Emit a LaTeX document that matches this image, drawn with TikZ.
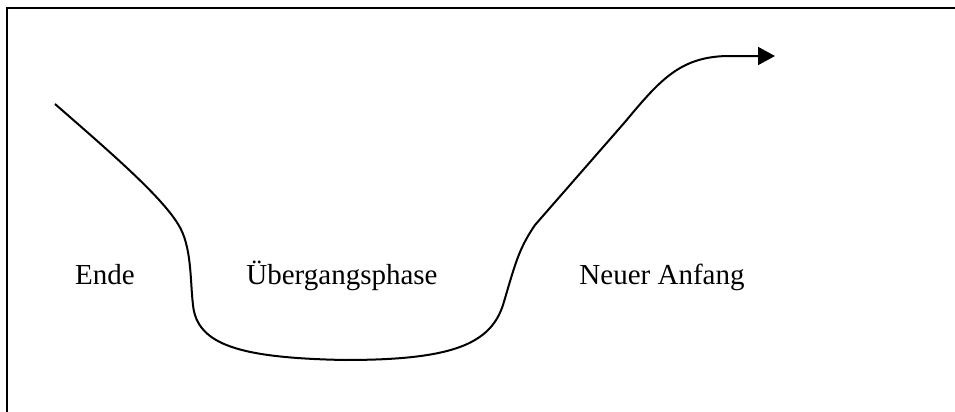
\documentclass[tikz,border=0pt]{standalone}
\usepackage{fontspec}
\setmainfont{Liberation Serif}
\usepackage{tikz}
\usetikzlibrary{arrows.meta}

\begin{document}
\begin{tikzpicture}[x=0.5pt, y=-0.5pt,
    phase/.style={anchor=base, inner sep=0pt, font=\fontsize{14.5}{17}\selectfont}]
    \useasboundingbox (0,0) rectangle (955,412);

    % --- 1. THE FRAME ---
    % only top and left edge are visible
    \draw[line width=0.9pt] (7,412) -- (7,8) -- (955,8);

    % --- 2. THE CURVE ---
    % down from the end, through the valley, up to the new start
    \draw[line width=1pt, -{Triangle[length=8.5pt, width=9pt]}]
        (55,104) .. controls (110,152) and (160,195) .. (178,224)
        .. controls (192,246) and (190,280) .. (193,305)
        .. controls (197,345) and (240,358) .. (345,360)
        .. controls (450,360) and (490,345) .. (503,305)
        .. controls (515,265) and (518,250) .. (535,225)
        -- (625,122)
        .. controls (660,80) and (680,57) .. (727,56)
        -- (775,56);

    % --- 3. THE LABELS ---
    \node[phase] (ende) at (105,284) {Ende};
    \node[phase] (uebergang) at (342,284) {Übergangsphase};
    \node[phase] (anfang) at (662,284) {Neuer Anfang};

\end{tikzpicture}
\end{document}
